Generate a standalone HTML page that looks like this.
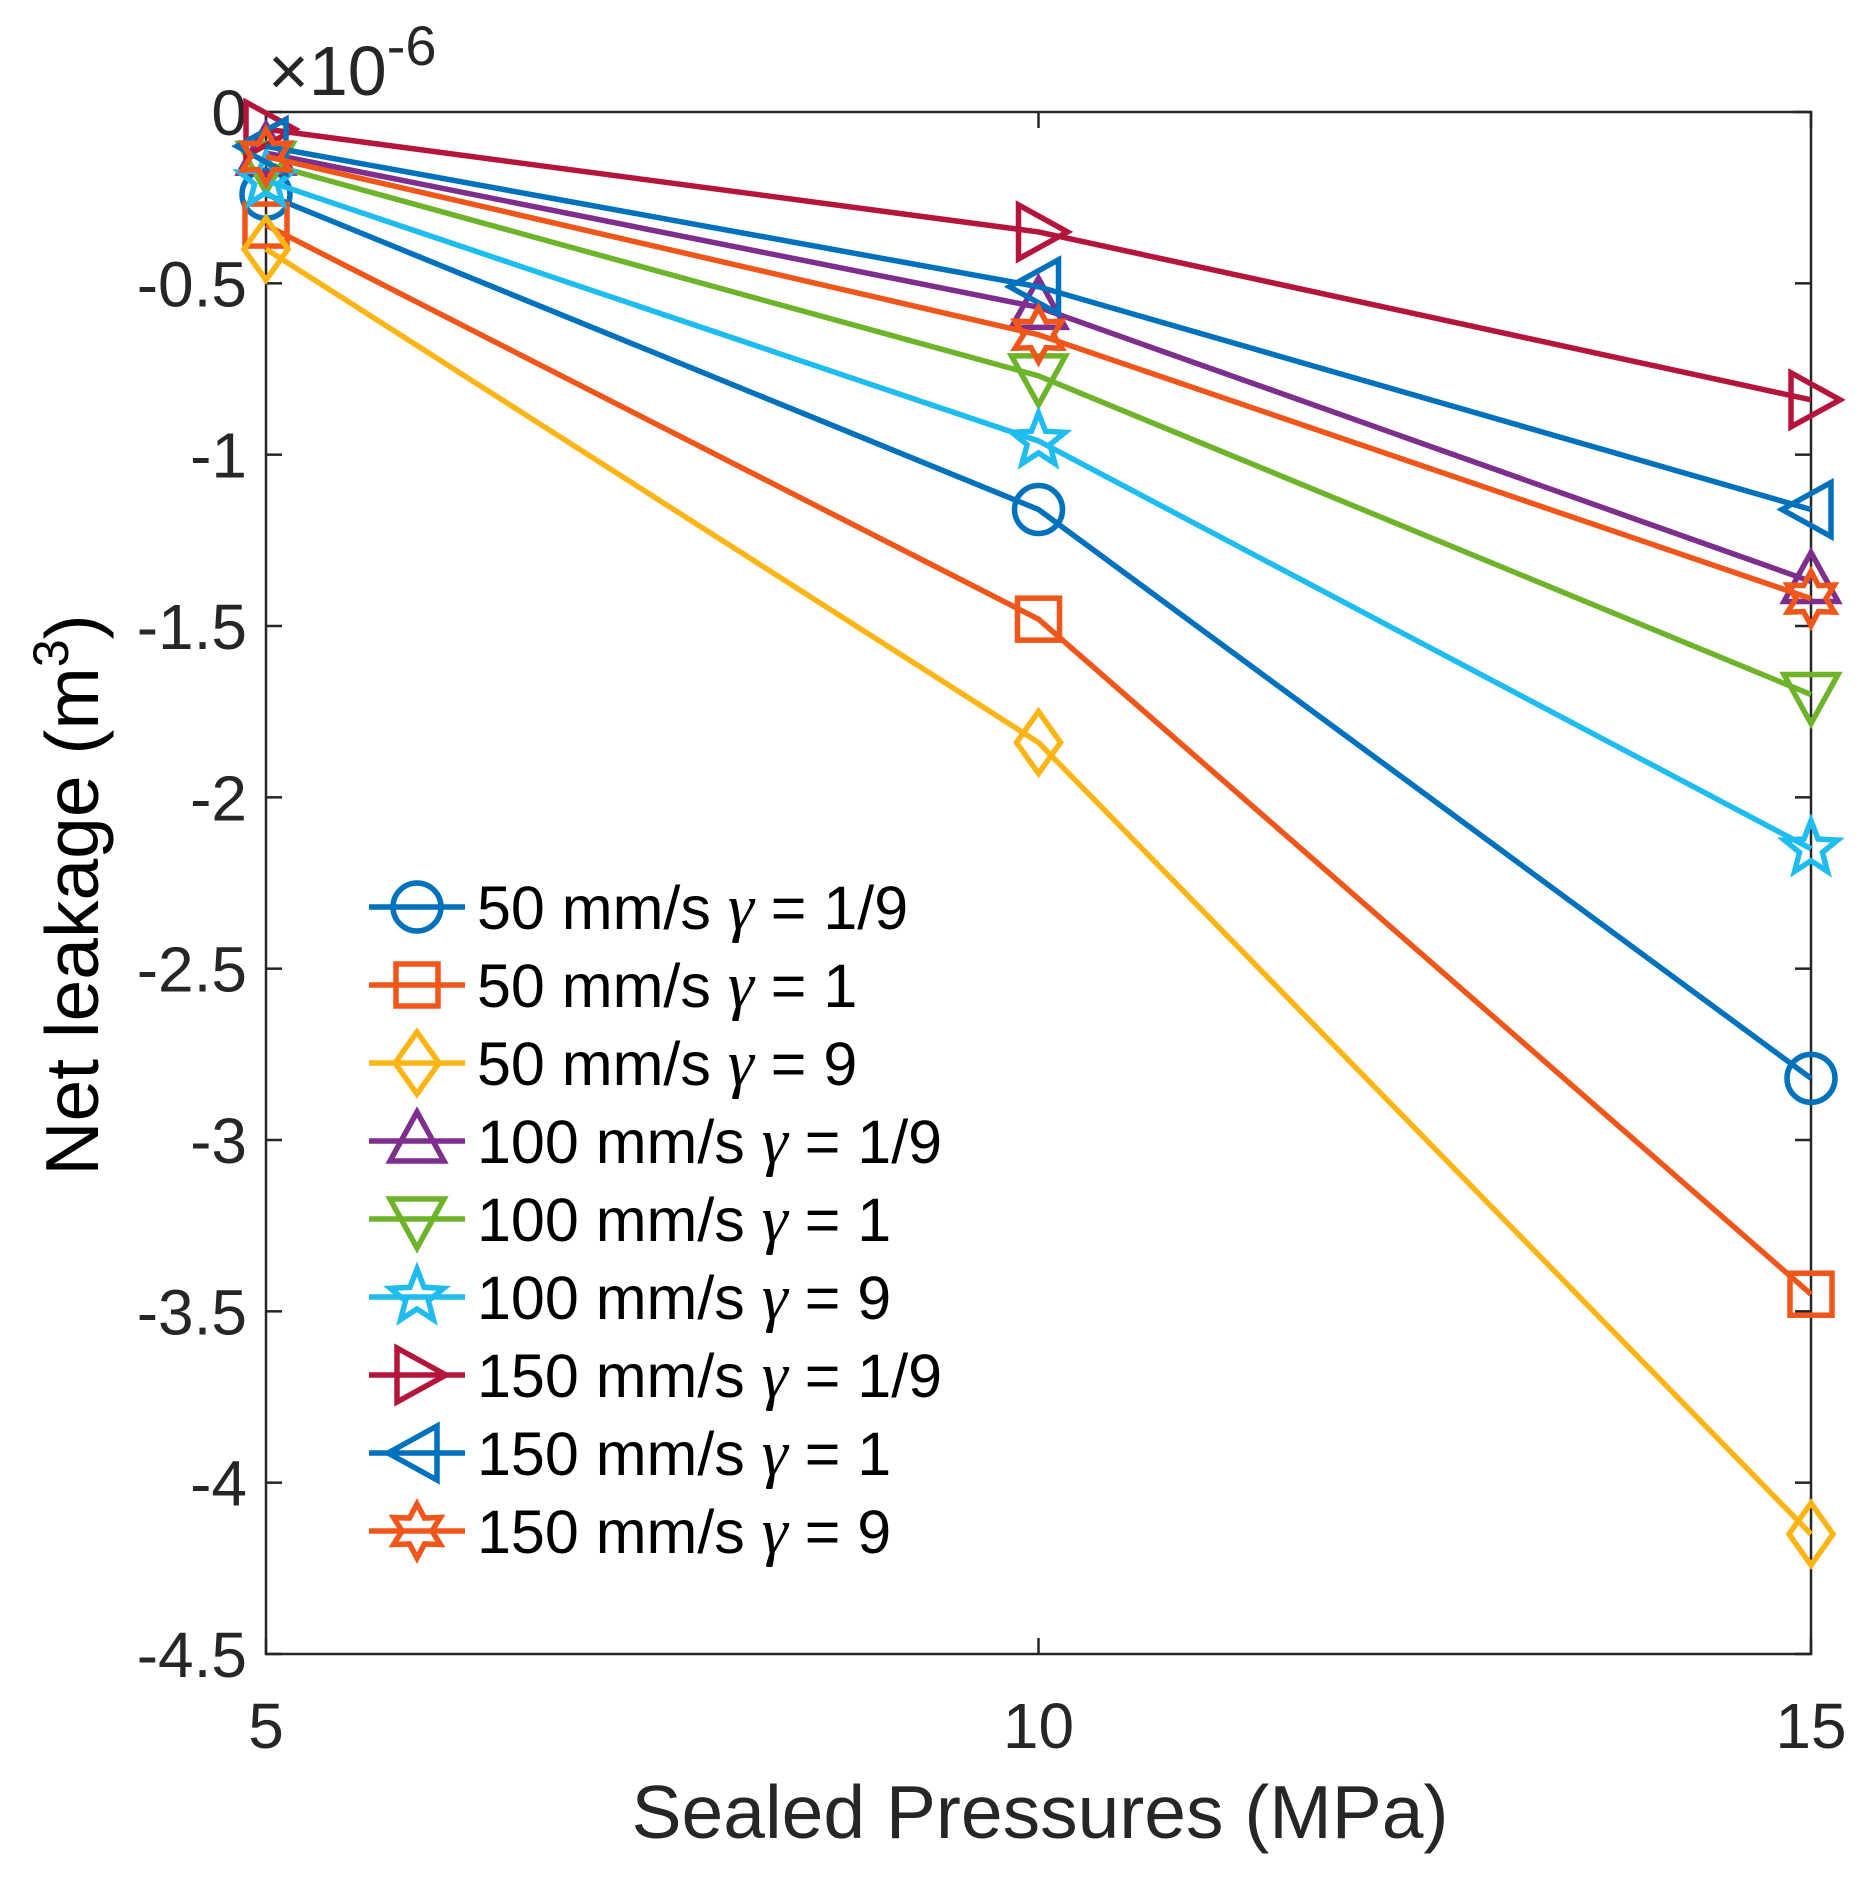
<!DOCTYPE html>
<html><head><meta charset="utf-8"><style>body{margin:0;background:#fff}svg{display:block}</style></head>
<body>
<svg id="s" width="1869" height="1879" xmlns="http://www.w3.org/2000/svg" font-family="Liberation Sans, sans-serif"></svg>
<script>
const s=document.getElementById('s');
const X0=266,X1=1811,Y0=112,Y1=1654;
const xs=v=>X0+(v-5)/10*(X1-X0), ys=v=>Y0-v/4.5*(Y1-Y0);
let h='';
h+=`<rect x="${X0}" y="${Y0}" width="${X1-X0}" height="${Y1-Y0}" fill="none" stroke="#262626" stroke-width="2.5"/>`;
for(let i=0;i<=9;i++){const v=-i*0.5,y=ys(v);
h+=`<line x1="${X0}" y1="${y}" x2="${X0+16}" y2="${y}" stroke="#262626" stroke-width="2.5"/><line x1="${X1}" y1="${y}" x2="${X1-16}" y2="${y}" stroke="#262626" stroke-width="2.5"/>`;
h+=`<text x="247" y="${y+23}" font-size="64" text-anchor="end" fill="#262626">${i==0?'0':'-'+(i*0.5)}</text>`;}
[5,10,15].forEach(v=>{const x=xs(v);h+=`<line x1="${x}" y1="${Y0}" x2="${x}" y2="${Y0+16}" stroke="#262626" stroke-width="2.5"/><line x1="${x}" y1="${Y1}" x2="${x}" y2="${Y1-16}" stroke="#262626" stroke-width="2.5"/><text x="${x}" y="1748" font-size="64" text-anchor="middle" fill="#262626">${v}</text>`;});
h+=`<text x="1040" y="1838" font-size="75" text-anchor="middle" fill="#262626">Sealed Pressures (MPa)</text>`;
h+=`<text transform="translate(98,895) rotate(-90)" font-size="75" text-anchor="middle" fill="#000">Net leakage (m<tspan dy="-30" font-size="50">3</tspan><tspan dy="30">)</tspan></text>`;
h+=`<text x="268" y="95" font-size="70" fill="#262626">×10<tspan dy="-30" font-size="56">-6</tspan></text>`;
function mk(t,x,y,c){let p;
switch(t){
case 'o':return `<circle cx="${x}" cy="${y}" r="24" fill="none" stroke="${c}" stroke-width="5.5"/>`;
case 's':return `<rect x="${x-21}" y="${y-21}" width="42" height="42" fill="none" stroke="${c}" stroke-width="5.5"/>`;
case 'd':p=[[0,-31],[22,0],[0,31],[-22,0]];break;
case '^':p=[[0,-29],[27,20],[-27,20]];break;
case 'v':p=[[0,29],[27,-20],[-27,-20]];break;
case '>':p=[[29,0],[-20,-27],[-20,27]];break;
case '<':p=[[-29,0],[20,-27],[20,27]];break;
case 'p':p=[];for(let i=0;i<10;i++){const a=-Math.PI/2+i*Math.PI/5,rr=i%2?12:28;p.push([rr*Math.cos(a),rr*Math.sin(a)]);}break;
case 'h':p=[];for(let i=0;i<12;i++){const a=-Math.PI/2+i*Math.PI/6,rr=i%2?15:27;p.push([rr*Math.cos(a),rr*Math.sin(a)]);}break;}
return `<polygon points="${p.map(q=>(x+q[0])+','+(y+q[1])).join(' ')}" fill="none" stroke="${c}" stroke-width="5.5" stroke-linejoin="miter"/>`;}
const S=[
['#0072BD','o',[-0.24,-1.16,-2.82],'50 mm/s','1/9'],
['#F0561A','s',[-0.33,-1.48,-3.45],'50 mm/s','1'],
['#FDB515','d',[-0.40,-1.84,-4.15],'50 mm/s','9'],
['#7E2F8E','^',[-0.12,-0.57,-1.37],'100 mm/s','1/9'],
['#6DB42A','v',[-0.15,-0.77,-1.70],'100 mm/s','1'],
['#1EBCEF','p',[-0.20,-0.96,-2.15],'100 mm/s','9'],
['#B5153A','>',[-0.05,-0.35,-0.84],'150 mm/s','1/9'],
['#0072BD','<',[-0.10,-0.51,-1.16],'150 mm/s','1'],
['#F0561A','h',[-0.13,-0.65,-1.42],'150 mm/s','9']];
S.forEach(([c,t,d])=>{const pts=d.map((v,i)=>[xs(5+5*i),ys(v)]);
h+=`<polyline points="${pts.map(q=>q.join(',')).join(' ')}" fill="none" stroke="${c}" stroke-width="5.5"/>`;
pts.forEach(q=>h+=mk(t,q[0],q[1],c));});
S.forEach(([c,t,d,a,g],i)=>{const y=907+i*78;
h+=`<line x1="369" y1="${y}" x2="465" y2="${y}" stroke="${c}" stroke-width="5.5"/>`+mk(t,417,y,c);
h+=`<text x="477" y="${y+22}" font-size="61" fill="#000">${a} <tspan font-family="Liberation Serif, serif" font-style="italic" font-size="66">γ</tspan> = ${g}</text>`;});
s.innerHTML=h;
</script>
</body></html>
